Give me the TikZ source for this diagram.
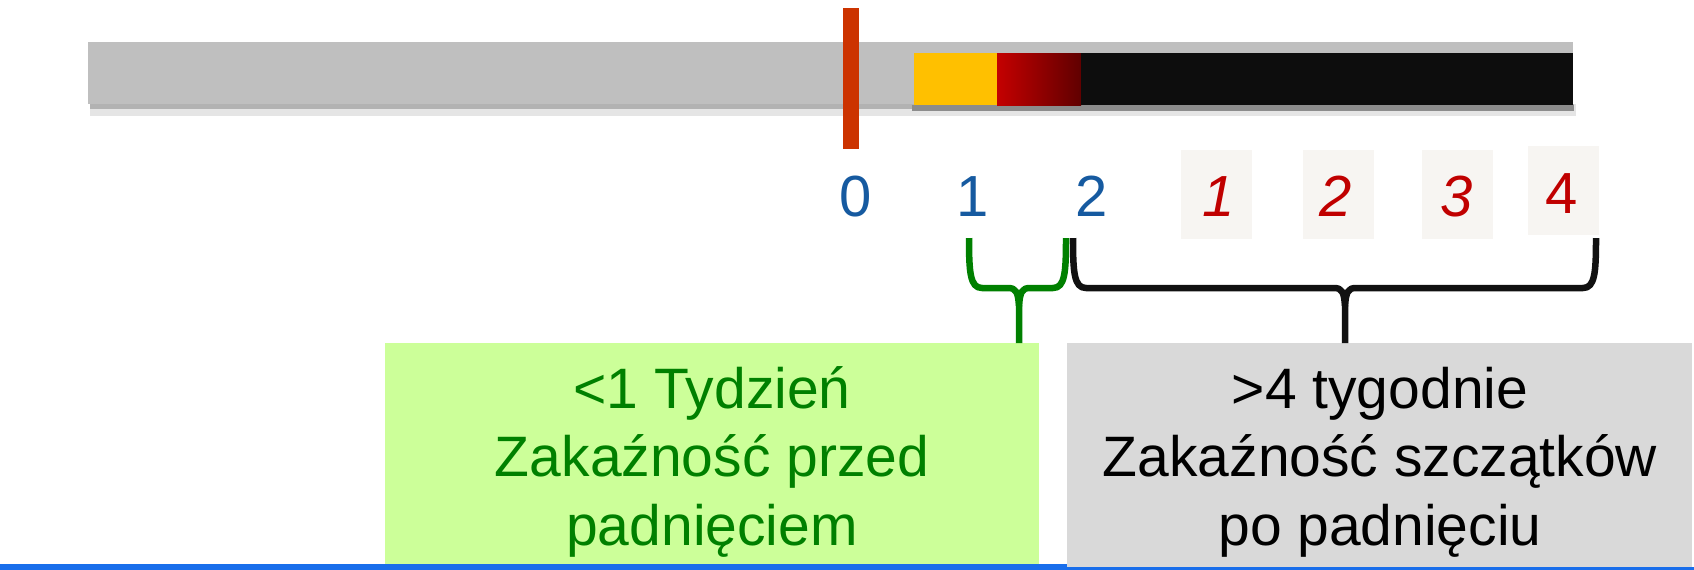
\documentclass[tikz,border=0pt]{standalone}
\usepackage{fontspec}
\setmainfont{Liberation Sans}
\begin{document}
\begin{tikzpicture}[x=1pt,y=-1pt]
\definecolor{barg}{RGB}{191,191,191}
\definecolor{yel}{RGB}{255,192,0}
\definecolor{redA}{RGB}{196,0,0}
\definecolor{redB}{RGB}{96,0,0}
\definecolor{blk}{RGB}{13,13,13}
\definecolor{orng}{RGB}{204,51,0}
\definecolor{bluedig}{RGB}{22,90,160}
\definecolor{reddig}{RGB}{192,0,0}
\definecolor{digbg}{RGB}{247,245,242}
\definecolor{gfill}{RGB}{204,255,153}
\definecolor{gtext}{RGB}{0,128,0}
\definecolor{grayfill}{RGB}{217,217,217}
\definecolor{bline}{RGB}{25,110,235}
\definecolor{brk}{RGB}{17,17,17}
\tikzset{
  digit/.style={inner sep=0pt, anchor=base, font=\fontsize{58}{58}\selectfont},
  itdigit/.style={digit, font=\fontsize{58}{58}\selectfont\itshape},
  digbox/.style={fill=digbg, inner sep=0pt, minimum width=71pt, minimum height=89pt},
  infobox/.style={inner sep=0pt, minimum width=#1, minimum height=227pt, anchor=north},
  infotext/.style={align=center, anchor=base, inner sep=0pt, font=\fontsize{57}{68.5}\selectfont},
  brace/.style={line width=6.5pt, line cap=butt, line join=round},
}
\useasboundingbox (0,0) rectangle (1694,570);
% bar shadow
\fill[black!10] (90,104) rectangle (1576,116);
\fill[black!30] (90,104) rectangle (1574,109);
\fill[black!45] (912,105) rectangle (1574,111);
% gray bar
\fill[barg] (88,42) rectangle (1573,104);
% coloured segments
\fill[yel] (914,53) rectangle (997,105);
\shade[left color=redA, right color=redB] (997,53) rectangle (1081,105);
\fill[blk] (1081,53) rectangle (1573,105);
% time zero marker
\fill[orng] (843,8) rectangle (859,149);
% digit background boxes
\node[digbox] (b1) at (1216.5,194.5) {};
\node[digbox] (b2) at (1338.5,194.5) {};
\node[digbox] (b3) at (1457,194.5) {};
\node[digbox] (b4) at (1563.5,190.5) {};
% digits
\node[digit, text=bluedig] (d0) at (856,216) {0};
\node[digit, text=bluedig] (d1) at (973,216) {1};
\node[digit, text=bluedig] (d2) at (1092,216) {2};
\node[itdigit, text=reddig] (w1) at (1219,216) {1};
\node[itdigit, text=reddig] (w2) at (1336,216) {2};
\node[itdigit, text=reddig] (w3) at (1457,216) {3};
\node[digit, text=reddig] (w4) at (1562,213) {4};
% boxes
\node[infobox=654pt, fill=gfill] (gbox) at (712,343) {};
\node[infobox=625pt, fill=grayfill] (kbox) at (1379.5,343) {};
\node[infotext, text=gtext] (gtxt) at (712,545)
  {<1 Tydzień\\Zakaźność przed\\padnięciem};
\node[infotext, text=black] (ktxt) at (1380,545)
  {>4 tygodnie\\Zakaźność szczątków\\po padnięciu};
% bottom blue line
\fill[bline] (0,564) rectangle (1067,570);
\fill[bline] (1067,567) rectangle (1694,570);
% brackets
\coordinate (gL) at (969,238);
\coordinate (gR) at (1066,238);
\coordinate (gT) at (gbox.north -| 1019,0);
\coordinate (kL) at (1073,238);
\coordinate (kR) at (1596,238);
\coordinate (kT) at (kbox.north -| 1345,0);
\draw[brace, draw=gtext] (gL) .. controls (969,272) and (970,288) .. (982,288) -- (1008,288)
   .. controls (1016,288) and (1018,292) .. (1019,306) -- (gT);
\draw[brace, draw=gtext] (gR) .. controls (1066,272) and (1065,288) .. (1053,288) -- (1030,288)
   .. controls (1022,288) and (1020,292) .. (1019,306);
\draw[brace, draw=brk] (kL) .. controls (1073,272) and (1074,288) .. (1086,288) -- (1334,288)
   .. controls (1342,288) and (1344,292) .. (1345,306) -- (kT);
\draw[brace, draw=brk] (kR) .. controls (1596,272) and (1595,288) .. (1583,288) -- (1356,288)
   .. controls (1348,288) and (1346,292) .. (1345,306);
\end{tikzpicture}
\end{document}
